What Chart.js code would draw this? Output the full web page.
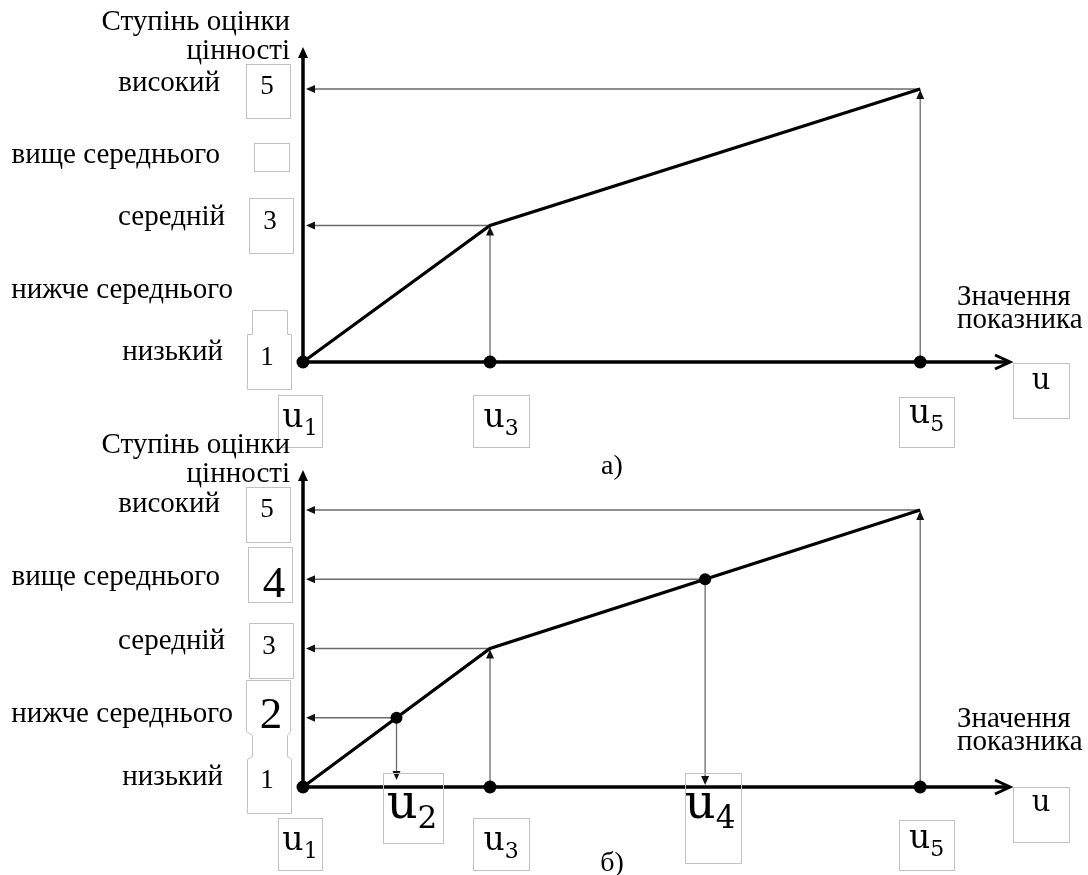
<!DOCTYPE html>
<html><head><meta charset="utf-8">
<script src="https://cdn.jsdelivr.net/npm/chart.js@4.4.1/dist/chart.umd.min.js"></script>
<style>
html,body{margin:0;padding:0;background:#fff;}
#wrap{position:relative;width:1088px;height:875px;background:#fff;}
canvas{position:absolute;left:0;top:0;}
</style>
</head><body>
<div id="wrap"><canvas id="c1" width="1088" height="875"></canvas><canvas id="c2" width="1088" height="875"></canvas></div>
<script>
// ---------- data ----------
const levelValues = [1, 2, 3, 4, 5];
const levelNames = ['низький', 'нижче середнього', 'середній', 'вище середнього', 'високий'];
const uSubs = ['1', '2', '3', '4', '5'];
const uValues = [0, 0.5, 1, 2.15, 3.3];      // u1..u5 on the indicator axis
const uLevels = [1, 2, 3, 4, 5];             // level reached at each u
const curveX = [0, 1, 3.3];                  // u1, u3, u5
const curveY = [1, 3, 5];
const xAxisMax = 3.78;
const yTitle = ['Ступінь оцінки', 'цінності'];
const xTitle = ['Значення', 'показника'];
const captions = ['а)', 'б)'];
const panelAUs = [0, 2, 4];                  // u indices shown in panel a
const panelBUs = [0, 1, 2, 3, 4];            // u indices shown in panel b
const panelADigits = ['1', '', '3', '', '5'];
const panelBDigits = ['1', '2', '3', '4', '5'];

const SERIF = '"Liberation Serif", "Times New Roman", serif';
const USERIF = '"DejaVu Serif", serif';
const FS = 29;

function arrowHead(ctx, x, y, dir, len, hw) {
  ctx.beginPath();
  if (dir === 'left') { ctx.moveTo(x, y); ctx.lineTo(x + len, y - hw); ctx.lineTo(x + len, y + hw); }
  else if (dir === 'up') { ctx.moveTo(x, y); ctx.lineTo(x - hw, y + len); ctx.lineTo(x + hw, y + len); }
  else { ctx.moveTo(x, y); ctx.lineTo(x - hw, y - len); ctx.lineTo(x + hw, y - len); }
  ctx.closePath(); ctx.fill();
}
function boxR(ctx, x1, y1, x2, y2) {
  ctx.strokeRect(Math.round(x1) + 0.5, Math.round(y1) + 0.5, Math.round(x2 - x1), Math.round(y2 - y1));
}
function poly(ctx, pts) {
  ctx.beginPath();
  pts.forEach((p, i) => { const x = Math.round(p[0]) + 0.5, y = Math.round(p[1]) + 0.5; i ? ctx.lineTo(x, y) : ctx.moveTo(x, y); });
  ctx.closePath(); ctx.stroke();
}
function txt(ctx, s, x, y, size, align, fam) {
  ctx.font = size + 'px ' + (fam || SERIF);
  ctx.textAlign = align || 'left';
  ctx.textBaseline = 'alphabetic';
  ctx.fillText(s, x, y);
}
function uLabel(ctx, sub, cx, base, size, subSize, dy) {
  ctx.textBaseline = 'alphabetic'; ctx.textAlign = 'left';
  ctx.font = size + 'px ' + USERIF;
  const wu = ctx.measureText('u').width;
  ctx.font = subSize + 'px ' + USERIF;
  const ws = sub ? ctx.measureText(sub).width : 0;
  const x0 = cx - (wu + ws) / 2;
  ctx.font = size + 'px ' + USERIF;
  ctx.fillText('u', x0, base);
  if (sub) { ctx.font = subSize + 'px ' + USERIF; ctx.fillText(sub, x0 + wu, base + dy); }
}

const labelRight = { 1: -80, 2: -70, 3: -78, 4: -83, 5: -83 };
const labelBase = { 1: -2, 2: 4, 3: 0, 4: 6, 5: 2 };

const annot = {
  id: 'annot',
  beforeDatasetsDraw(chart, args, opts) {
    const ctx = chart.ctx, xs = chart.scales.x, ys = chart.scales.y;
    const X = v => xs.getPixelForValue(v), Y = v => ys.getPixelForValue(v);
    const ax = X(0), ay = Y(1), top = Y(ys.max), right = X(xs.max);
    const us = opts.panel === 0 ? panelAUs : panelBUs;
    ctx.save();
    // guide lines
    ctx.strokeStyle = '#6a6a6a'; ctx.lineWidth = 1.3; ctx.fillStyle = '#111';
    us.forEach(i => {
      if (i === 0) return;
      const ux = X(uValues[i]), ly = Y(uLevels[i]);
      ctx.beginPath(); ctx.moveTo(ux, ly); ctx.lineTo(ax + 10, ly); ctx.stroke();
      arrowHead(ctx, ax + 3, ly, 'left', 9, 4);
      if (i === 2 || i === 4) {
        ctx.beginPath(); ctx.moveTo(ux, ay); ctx.lineTo(ux, ly + 8); ctx.stroke();
        arrowHead(ctx, ux, ly + 1, 'up', 9, 4);
      } else {
        const tip = i === 1 ? ay - 7 : ay - 2;
        ctx.beginPath(); ctx.moveTo(ux, ly); ctx.lineTo(ux, tip - 8); ctx.stroke();
        arrowHead(ctx, ux, tip, 'down', 9, 4);
      }
    });
    // axes
    ctx.strokeStyle = '#000'; ctx.fillStyle = '#000'; ctx.lineWidth = 3.5;
    ctx.beginPath(); ctx.moveTo(ax, ay); ctx.lineTo(ax, top + 8); ctx.stroke();
    arrowHead(ctx, ax, top, 'up', 11, 5);
    ctx.beginPath(); ctx.moveTo(ax, ay); ctx.lineTo(right - 2, ay); ctx.stroke();
    ctx.lineWidth = 3; ctx.lineJoin = 'miter';
    ctx.beginPath(); ctx.moveTo(right - 15, ay - 7); ctx.lineTo(right, ay); ctx.lineTo(right - 15, ay + 7); ctx.stroke();
    ctx.restore();
  },
  afterDraw(chart, args, opts) {
    const ctx = chart.ctx, xs = chart.scales.x, ys = chart.scales.y;
    const X = v => xs.getPixelForValue(v), Y = v => ys.getPixelForValue(v);
    const ax = X(0), ay = Y(1), top = Y(ys.max), right = X(xs.max);
    const P = opts.panel;
    ctx.save();
    ctx.fillStyle = '#000';
    // axis titles
    txt(ctx, yTitle[0], ax - 13, top - 17, FS, 'right');
    txt(ctx, yTitle[1], ax - 13, top + 12, FS, 'right');
    const xb = P === 0 ? [-57, -34] : [-60, -37];
    txt(ctx, xTitle[0], right - 53, ay + xb[0], FS, 'left');
    txt(ctx, xTitle[1], right - 53, ay + xb[1], FS, 'left');
    // level names
    levelValues.forEach((l, i) => {
      txt(ctx, levelNames[i], ax + labelRight[l], Y(l) + labelBase[l], FS, 'right');
    });
    // level boxes
    ctx.strokeStyle = '#c2c2c2'; ctx.lineWidth = 1;
    const digits = P === 0 ? panelADigits : panelBDigits;
    if (P === 0) {
      boxR(ctx, ax - 57, Y(5) - 25, ax - 13, Y(5) + 29);
      boxR(ctx, ax - 49, Y(4) - 14, ax - 14, Y(4) + 14);
      boxR(ctx, ax - 54, Y(3) - 27, ax - 10, Y(3) + 28);
      poly(ctx, [[ax - 51, ay - 52], [ax - 16, ay - 52], [ax - 16, ay - 28], [ax - 12, ay - 28], [ax - 12, ay + 27],
                 [ax - 56, ay + 27], [ax - 56, ay - 28], [ax - 51, ay - 28]]);
      txt(ctx, digits[4], ax - 36, Y(5) + 5, 27, 'center');
      txt(ctx, digits[2], ax - 33, Y(3) + 4, 27, 'center');
      txt(ctx, digits[0], ax - 36, ay + 3, 27, 'center');
    } else {
      const y2 = Y(2);
      boxR(ctx, ax - 57, Y(5) - 23, ax - 13, Y(5) + 32);
      boxR(ctx, ax - 55, Y(4) - 32, ax - 11, Y(4) + 23);
      boxR(ctx, ax - 54, Y(3) - 26, ax - 10, Y(3) + 29);
      poly(ctx, [[ax - 57, y2 - 38], [ax - 13, y2 - 38], [ax - 13, y2 + 13], [ax - 16, y2 + 17], [ax - 16, ay - 31],
                 [ax - 12, ay - 28], [ax - 12, ay + 26], [ax - 56, ay + 26], [ax - 56, ay - 28], [ax - 51, ay - 31],
                 [ax - 51, y2 + 17], [ax - 57, y2 + 13]]);
      txt(ctx, digits[4], ax - 36, Y(5) + 7, 27, 'center');
      txt(ctx, digits[3], ax - 29, Y(4) + 18, 45, 'center');
      txt(ctx, digits[2], ax - 34, Y(3) + 5, 27, 'center');
      txt(ctx, digits[1], ax - 32, y2 + 10, 45, 'center');
      txt(ctx, digits[0], ax - 36, ay + 1, 27, 'center');
    }
    // u boxes
    const d = P === 0 ? 2 : 0;
    const small = [
      { i: 0, x1: -25, x2: 19, y1: 31 + d, y2: 83 + d, b: 63 + d },
      { i: 2, x1: -17, x2: 39, y1: 31 + d, y2: 83 + d, b: 63 + d },
      { i: 4, x1: -21, x2: 34, y1: 33 + d, y2: 83 + d, b: 61 }
    ];
    small.forEach(s => {
      const ux = X(uValues[s.i]);
      boxR(ctx, ux + s.x1, ay + s.y1, ux + s.x2, ay + s.y2);
      uLabel(ctx, uSubs[s.i], ux + (s.x1 + s.x2) / 2, ay + s.b, 33, 22, 8);
    });
    if (P === 1) {
      const big = [
        { i: 1, x1: -14, x2: 46, y1: -14, y2: 56, cx: 15.5 },
        { i: 3, x1: -20, x2: 36, y1: -14, y2: 76, cx: 5 }
      ];
      big.forEach(s => {
        const ux = X(uValues[s.i]);
        boxR(ctx, ux + s.x1, ay + s.y1, ux + s.x2, ay + s.y2);
        uLabel(ctx, uSubs[s.i], ux + s.cx, ay + 31, 48, 31, 10);
      });
    }
    const ub = P === 0 ? [1, 56, 27] : [0, 55, 24];
    boxR(ctx, right + 3, ay + ub[0], right + 59, ay + ub[1]);
    uLabel(ctx, '', right + 31, ay + ub[2], 29, 20, 0);
    // caption
    txt(ctx, captions[P], 612, ay + (P === 0 ? 112 : 84), 28, 'center');
    ctx.restore();
  }
};

const panels = [
  { id: 'c1', top: 47, bottom: 362, yMax: 5.615, curveDots: [] },
  { id: 'c2', top: 470, bottom: 787, yMax: 5.578, curveDots: [1, 3] }
];

panels.forEach((p, P) => {
  const axisDots = [0, 2, 4].map(i => ({ x: uValues[i], y: 1 }));
  const curveDots = p.curveDots.map(i => ({ x: uValues[i], y: uLevels[i] }));
  new Chart(document.getElementById(p.id), {
    type: 'scatter',
    data: {
      datasets: [
        { data: curveX.map((x, i) => ({ x, y: curveY[i] })), showLine: true, borderColor: '#000', borderWidth: 3.2,
          pointRadius: 0, clip: false, order: 2 },
        { data: axisDots, pointRadius: 6.5, backgroundColor: '#000', borderWidth: 0, clip: false, order: 1 },
        { data: curveDots, pointRadius: 6, backgroundColor: '#000', borderWidth: 0, clip: false, order: 1 }
      ]
    },
    options: {
      responsive: false, animation: false, devicePixelRatio: 1, events: [],
      layout: { padding: { left: 303, right: 1088 - 1010, top: p.top, bottom: 875 - p.bottom } },
      scales: {
        x: { type: 'linear', min: 0, max: xAxisMax, display: false },
        y: { type: 'linear', min: 1, max: p.yMax, display: false }
      },
      plugins: { legend: { display: false }, tooltip: { enabled: false }, annot: { panel: P } }
    },
    plugins: [annot]
  });
});
</script>
</body></html>
